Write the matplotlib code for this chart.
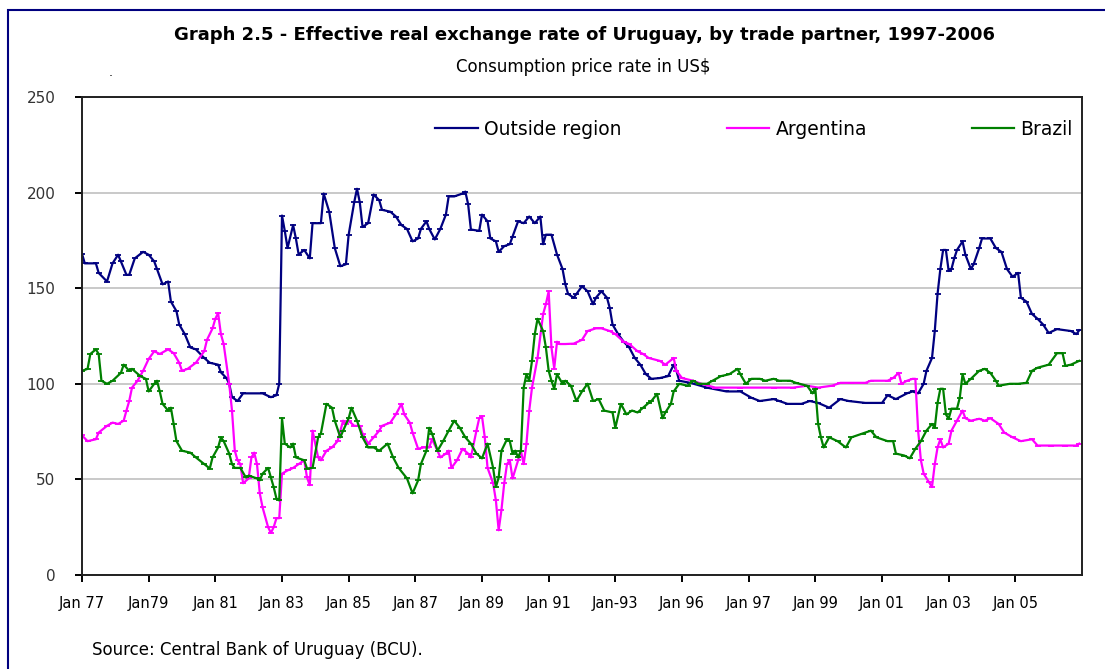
import matplotlib.pyplot as plt
from matplotlib.patches import Rectangle

# month index from Jan 1977 (0) and index value
out_months = [0, 1, 5, 6, 9, 11, 13, 14, 16, 17, 19, 22, 24, 26, 27, 29, 31, 32, 34, 35,
              37, 39, 41, 44, 46, 49, 50, 52, 53, 54, 56, 58, 65, 68, 70, 71, 72, 73, 74, 76,
              77, 78, 80, 82, 83, 86, 87, 89, 91, 93, 95, 96, 98, 99, 100, 101, 103, 105, 107, 108,
              111, 113, 115, 117, 119, 121, 122, 124, 125, 127, 129, 131, 132, 134, 137, 138, 139, 140, 143, 144,
              146, 147, 149, 150, 152, 154, 155, 157, 159, 161, 163, 165, 166, 167, 169, 171, 173, 174, 175, 177,
              178, 180, 182, 184, 185, 187, 189, 190, 191, 193, 195, 197, 199, 201, 203, 205, 208, 211, 213, 214,
              215, 219, 225, 232, 237, 241, 244, 249, 251, 254, 259, 262, 265, 269, 273, 276, 282, 288, 290, 293,
              297, 299, 301, 303, 304, 306, 307, 308, 309, 310, 311, 312, 313, 314, 315, 317, 318, 320, 321, 323,
              324, 327, 329, 331, 333, 335, 337, 338, 340, 342, 344, 346, 348, 351, 356, 358, 359]
out_values = [168, 163, 163, 158, 153.5, 163, 167.5, 164, 157, 157, 165.6, 169, 167.5, 164, 160, 152, 153.5, 143, 138, 131,
              126, 119, 118, 113.5, 111, 110, 106, 103, 100, 93, 91, 95, 95, 93, 94, 100, 188, 180, 171, 183,
              176, 167.6, 170, 165.6, 184, 184, 199.5, 190, 171, 161.5, 162.5, 178, 195, 202, 195, 182, 184, 199, 196, 191,
              190, 187.5, 183, 181, 174.5, 176, 181, 185, 181, 175.5, 181, 188.5, 198, 198, 199.5, 200.5, 194, 180.7, 180, 188.5,
              185, 176, 174.5, 169, 172, 173, 177, 185, 184, 187.5, 184, 187.5, 173, 178, 178, 167.6, 160, 152, 147, 145,
              147, 151, 148.4, 141.6, 145, 148.4, 145, 139.6, 131, 126, 122, 119, 113.5, 110, 105, 102.6, 103, 104, 110, 106.8,
              101.6, 100.5, 98, 96, 96, 92.7, 91, 92, 91, 89.5, 89.5, 91, 90, 87.5, 92, 91, 90, 90, 94, 92,
              95, 96, 95, 100, 106.8, 113.5, 127.6, 147, 160, 170, 170, 159, 160, 165.6, 170, 174.5, 167.6, 160, 162.5, 171,
              176, 176, 171, 169, 160, 156, 158, 145, 143, 136.5, 134, 131, 126.6, 128.6, 127.6, 126, 128]

arg_months = [0, 2, 5, 6, 9, 11, 13, 15, 16, 17, 18, 20, 22, 24, 26, 28, 31, 33, 35, 36,
              38, 41, 44, 45, 47, 48, 49, 50, 51, 53, 54, 55, 56, 57, 58, 60, 61, 62, 63, 64,
              65, 67, 68, 69, 70, 71, 72, 74, 76, 78, 80, 81, 82, 83, 85, 86, 88, 90, 92, 94,
              95, 96, 98, 100, 101, 103, 105, 107, 108, 111, 113, 115, 116, 118, 119, 121, 123, 125, 126, 128,
              129, 131, 132, 133, 135, 137, 139, 140, 142, 143, 144, 145, 146, 148, 149, 150, 151, 152, 153, 154,
              155, 157, 158, 159, 160, 161, 162, 164, 166, 167, 168, 169, 170, 171, 172, 174, 177, 180, 182, 185,
              187, 190, 192, 195, 197, 200, 202, 204, 208, 210, 213, 214, 216, 220, 223, 228, 237, 249, 256, 261,
              265, 270, 273, 277, 282, 284, 290, 292, 294, 295, 297, 299, 300, 301, 302, 303, 305, 306, 307, 308,
              309, 310, 312, 313, 315, 317, 318, 320, 323, 325, 327, 330, 332, 335, 338, 342, 344, 349, 354, 358,
              359]
arg_values = [73, 70, 71, 74.5, 78, 79.7, 79, 80.7, 86, 91, 98, 101.6, 106.8, 113, 117, 115.6, 118, 116, 111, 106.8,
              107.8, 111, 117, 123, 129, 134, 137, 126, 120.8, 100, 86, 65, 60, 58, 48, 50.5, 61.5, 64, 58, 42.7,
              35.4, 25, 22, 25, 29.7, 29.7, 53, 54.7, 56, 58, 60, 51, 47, 75.5, 61.5, 60, 65, 66.7, 70, 80.7,
              79, 80.7, 78, 78, 74, 68.7, 72, 75.5, 78, 79.7, 84, 89.5, 84, 79.7, 74.5, 66, 66.7, 66.7, 71, 65,
              61.5, 63.5, 65, 56, 60, 66, 63.5, 61.5, 75.5, 82, 83, 72, 56, 48, 39, 23.4, 34, 48, 58, 60,
              50.5, 60, 65, 58, 68.7, 86, 98, 113.5, 136.5, 141.6, 148.4, 119, 108, 122, 120.8, 120.8, 121, 123, 127.6, 129,
              129, 127.6, 126, 122, 120.8, 117, 115.6, 113.5, 112, 110, 113.5, 106.8, 103, 101.6, 100, 98, 98, 98, 98, 99,
              98, 99, 100.5, 100.5, 100.5, 101.6, 101.6, 103, 105.7, 100, 101.6, 102.6, 102.6, 75.5, 60, 53, 48.4, 46, 58, 66.7,
              71, 66.7, 68.7, 75.5, 80.7, 86, 82, 80.7, 81.7, 80.7, 82, 79, 74.5, 72, 70, 71, 67.7, 67.7, 67.7, 67.7,
              68.7]

bra_months = [0, 2, 3, 5, 6, 7, 9, 11, 14, 15, 17, 18, 21, 23, 24, 26, 27, 28, 29, 31,
              32, 33, 34, 36, 39, 41, 44, 46, 47, 49, 50, 51, 53, 54, 55, 57, 59, 60, 63, 64,
              65, 67, 68, 69, 70, 71, 72, 73, 75, 76, 77, 80, 81, 83, 85, 86, 88, 90, 91, 93,
              94, 96, 97, 99, 101, 103, 105, 107, 110, 112, 114, 117, 119, 121, 122, 124, 125, 126, 128, 130,
              132, 134, 136, 138, 140, 142, 144, 146, 148, 149, 150, 151, 153, 154, 155, 156, 157, 158, 159, 160,
              161, 162, 163, 164, 166, 167, 168, 169, 170, 171, 173, 174, 176, 178, 180, 182, 184, 186, 188, 191,
              192, 194, 196, 198, 200, 202, 204, 205, 207, 209, 210, 212, 213, 215, 218, 220, 222, 225, 227, 230,
              233, 236, 237, 239, 241, 244, 246, 249, 251, 255, 257, 261, 263, 264, 265, 266, 267, 269, 272, 275,
              277, 281, 284, 286, 290, 292, 293, 296, 298, 300, 302, 304, 306, 307, 308, 309, 310, 311, 312, 313,
              315, 316, 317, 318, 320, 323, 325, 327, 329, 330, 334, 337, 340, 342, 344, 348, 351, 353, 354, 356,
              359]
bra_values = [106.8, 107.8, 115.6, 118, 115.6, 101.6, 100, 101.6, 105.7, 110, 106.8, 107.8, 104, 102.6, 96, 100, 101.6, 96, 89.5, 86,
              87.5, 79, 70, 65, 64, 61.5, 58, 55.7, 61.5, 66.7, 72, 70, 63.5, 58, 56, 56, 51, 52, 50.5, 49.5,
              53, 56, 51, 46, 40, 39, 82, 68.7, 66.7, 68.7, 61.5, 60, 55.7, 56, 72, 74, 89.5, 87.5, 80.7, 72,
              75.5, 82, 87.5, 80.7, 72, 66.7, 66.7, 65, 68.7, 61.5, 56, 50.5, 42.7, 49.5, 58, 65, 77, 74, 65, 70,
              75.5, 80.7, 77, 72, 68.7, 63.5, 61, 68.7, 56, 46, 51, 65, 71, 70, 63.5, 65, 61.5, 65, 98, 105,
              101.6, 112, 126, 134, 127.6, 119, 106.8, 101.6, 97.4, 105, 100, 101.6, 99, 91, 96, 100, 91, 92, 86, 85,
              77, 89.5, 84, 86, 85, 87.5, 90, 91, 94.7, 82, 85, 89.5, 96, 100, 99, 101.6, 100, 100, 101.6, 104,
              105, 107.8, 105, 100, 102.6, 102.6, 101.6, 102.6, 101.6, 101.6, 100.5, 99, 95, 97.4, 79, 72, 66.7, 72, 70, 66.7,
              72, 74, 75.5, 72, 70, 70, 63.5, 62.5, 61, 66, 70, 75.5, 79, 77, 90, 97.4, 97.4, 84, 81.7, 87,
              87, 92.7, 105, 100, 102.6, 106.8, 107.8, 105.7, 101.6, 99, 100, 100, 100.5, 106.8, 108.4, 110, 116, 116, 109.4, 110,
              112]

tick_months = list(range(0, 360, 24))
tick_labels = ['Jan 77', 'Jan79', 'Jan 81', 'Jan 83', 'Jan 85', 'Jan 87', 'Jan 89', 'Jan 91',
               'Jan-93', 'Jan 96', 'Jan 97', 'Jan 99', 'Jan 01', 'Jan 03', 'Jan 05']

fig = plt.figure(figsize=(11.05, 6.69), dpi=100)
ax = fig.add_axes([82 / 1105, 1 - 575 / 669, 1000 / 1105, 478 / 669])

style = dict(linewidth=1.6, marker='_', markersize=4, markeredgewidth=1.3)
ax.plot(out_months, out_values, color='#000080', label='Outside region', **style)
ax.plot(arg_months, arg_values, color='#ff00ff', label='Argentina', **style)
ax.plot(bra_months, bra_values, color='#008000', label='Brazil', **style)

ax.set_xlim(0, 360)
ax.set_ylim(0, 250)
ax.set_yticks([0, 50, 100, 150, 200, 250])
ax.set_xticks(tick_months)
ax.set_xticklabels(tick_labels)
ax.grid(axis='y', color='#c0c0c0', linewidth=1.2)
ax.set_axisbelow(True)
for s in ax.spines.values():
    s.set_color('#202020')
    s.set_linewidth(1.4)
ax.tick_params(axis='y', length=5, width=1.4, pad=14, labelsize=11, labelcolor='#333333')
ax.tick_params(axis='x', length=5, width=1.4, pad=10, labelsize=10.5)

ax.legend(loc='center right', bbox_to_anchor=(0.991, 0.933), ncol=3, frameon=False,
          fontsize=13.5, handlelength=2.25, handletextpad=0.35, columnspacing=5.6,
          borderpad=0, borderaxespad=0)

fig.text(585 / 1105, 1 - 35 / 669, 'Graph 2.5 - Effective real exchange rate of Uruguay, by trade partner, 1997-2006',
         ha='center', va='center', fontsize=13, fontweight='bold')
fig.text(583 / 1105, 1 - 67 / 669, 'Consumption price rate in US$', ha='center', va='center', fontsize=12)
fig.text(111 / 1105, 1 - 72 / 669, '.', ha='center', va='center', fontsize=9)
fig.text(92 / 1105, 1 - 650 / 669, 'Source: Central Bank of Uruguay (BCU).', ha='left', va='center', fontsize=12)

# blue frame around the whole picture
fig.patches.append(Rectangle((8 / 1105, -0.1), 1.2, 1.1 - 10 / 669, transform=fig.transFigure,
                             fill=False, edgecolor='#00007f', linewidth=1.5))

fig.savefig('out.png', dpi=100)
